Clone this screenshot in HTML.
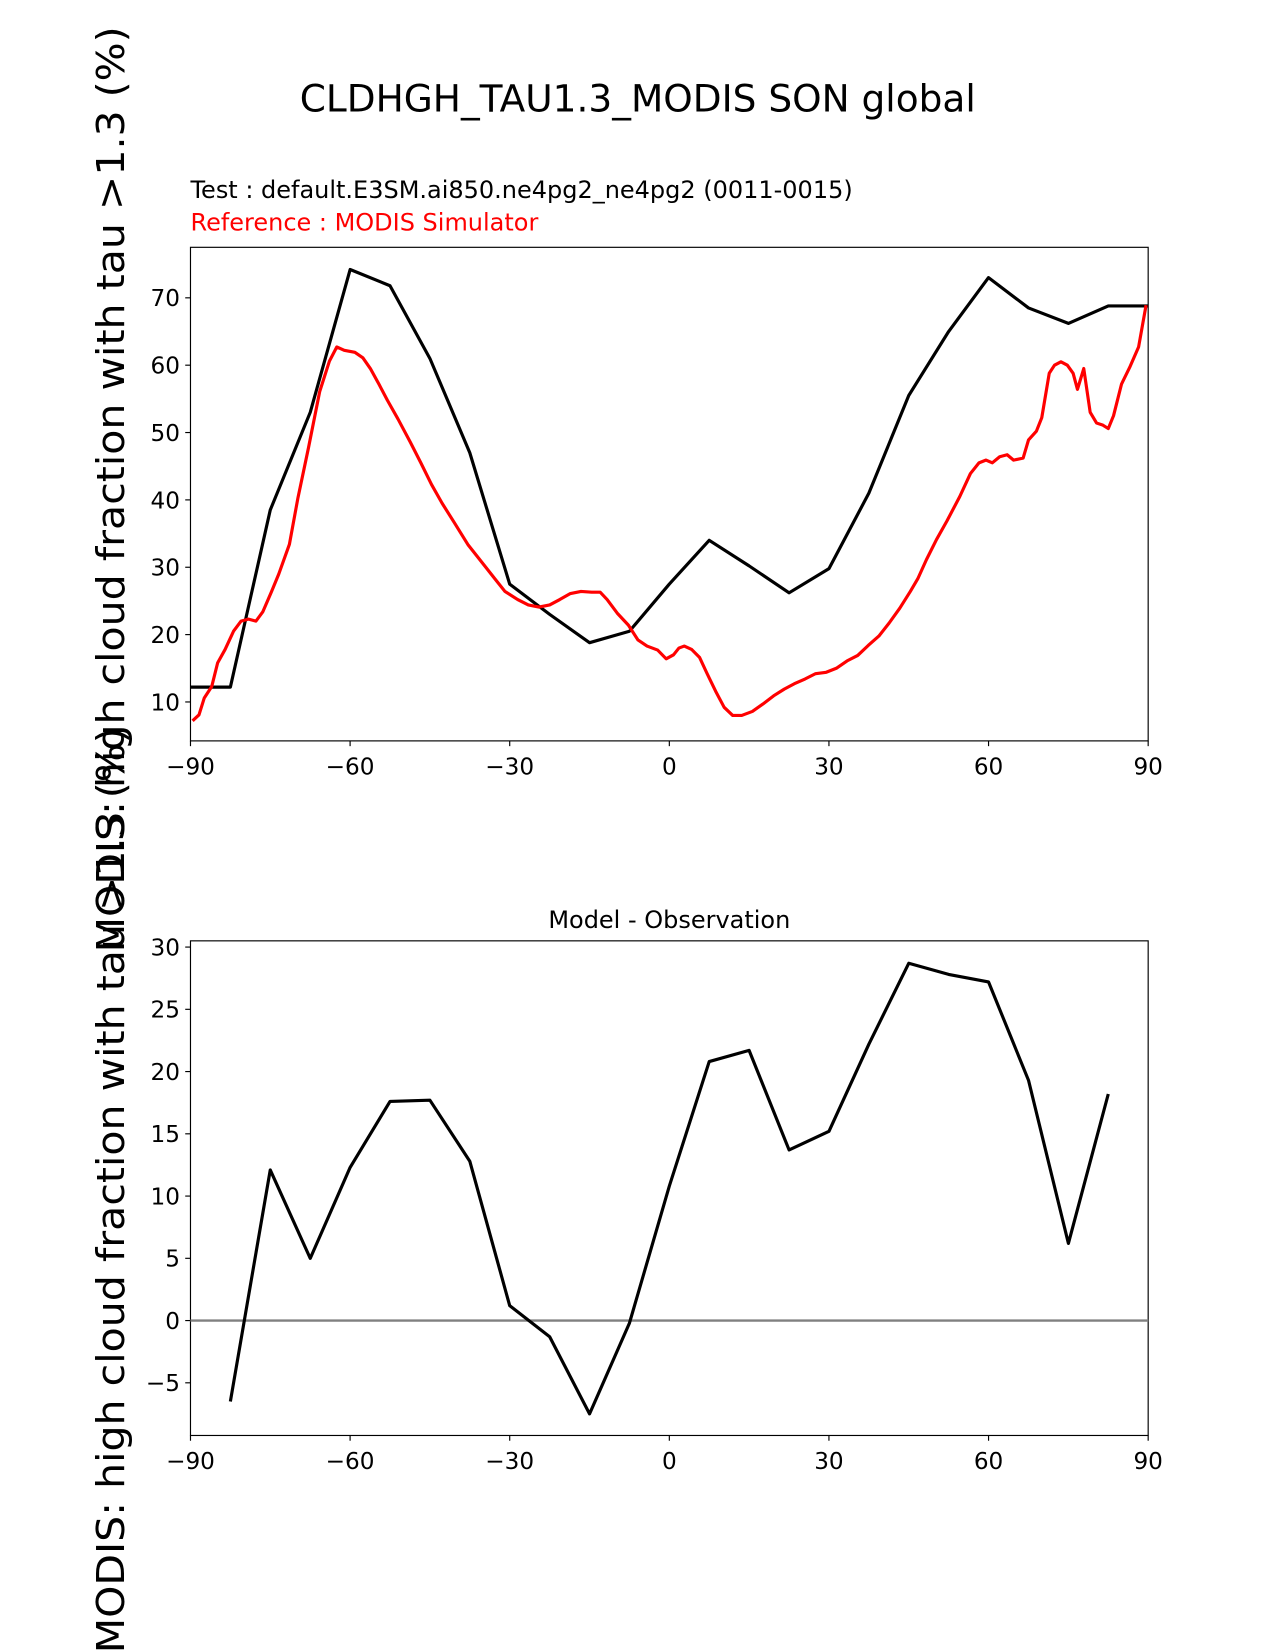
<!DOCTYPE html>
<html><head><meta charset="utf-8"><style>
html,body{margin:0;padding:0;background:#fff;}
svg{display:block;font-family:"DejaVu Sans","Liberation Sans",sans-serif;}
</style></head><body>
<svg id="chart" width="1275" height="1650" viewBox="0 0 1275 1650" xmlns="http://www.w3.org/2000/svg">
<rect width="1275" height="1650" fill="#fff"/>
<g transform="scale(1.0524)">
<text x="606" y="106" font-size="35.6" text-anchor="middle">CLDHGH_TAU1.3_MODIS SON global</text>
<text x="181" y="188" font-size="22.8">Test : default.E3SM.ai850.ne4pg2_ne4pg2 (0011-0015)</text>
<text x="181" y="219" font-size="22.8" fill="red">Reference : MODIS Simulator</text>
<text x="636" y="882" font-size="22.8" text-anchor="middle">Model - Observation</text>
<text transform="translate(118,465) rotate(-90)" font-size="36" text-anchor="middle" textLength="880" lengthAdjust="spacingAndGlyphs">MODIS: high cloud fraction with tau &gt;1.3 (%)</text>
<text transform="translate(118,1131) rotate(-90)" font-size="36" text-anchor="middle" textLength="880" lengthAdjust="spacingAndGlyphs">MODIS: high cloud fraction with tau &gt;1.3 (%)</text>
<g id="top"></g>
<g id="bot"></g>
</g>
</svg>
<script>
const lats = [-90,-82.5,-75,-67.5,-60,-52.5,-45,-37.5,-30,-22.5,-15,-7.5,0,7.5,15,22.5,30,37.5,45,52.5,60,67.5,75,82.5,90];
const testVals = [12.2,12.2,38.5,53,74.2,71.8,61,47,27.5,23,18.8,20.5,27.5,34,30.2,26.2,29.8,41,55.5,65,73,68.5,66.2,68.8,68.8];
const refLats = [-89.6,-88.4,-87.4,-86,-84.9,-83.5,-81.9,-80.5,-79.1,-77.7,-76.4,-74.8,-73.4,-71.4,-69.8,-67.8,-65.7,-63.9,-62.5,-61.1,-59.1,-57.6,-56.2,-54.6,-53,-51,-48.7,-46.7,-44.7,-42.7,-40.4,-37.8,-34.8,-32.8,-30.9,-28.5,-26.5,-24.5,-22.5,-20.6,-18.6,-16.6,-14.6,-13,-11.7,-9.7,-7.7,-5.9,-4.2,-2.2,-0.6,0.8,1.8,2.8,4.2,5.7,7.1,8.7,10.3,11.9,13.6,15.6,17.6,19.6,21.6,23.5,25.5,27.5,29.5,31.4,33.4,35.4,37.4,39.4,41.3,43.3,45.3,46.7,48.3,50.2,52.2,54.6,56.6,58.2,59.5,60.7,62.1,63.5,64.7,66.5,67.5,69,70,71.4,72.4,73.6,74.8,75.9,76.7,77.9,79.1,80.3,81.5,82.5,83.5,85,86.6,88.2,89.6];
const refVals = [7.2,8.1,10.6,12.3,15.8,17.8,20.5,22,22.3,22,23.4,26.3,29,33.4,40.3,47.8,56.1,60.6,62.7,62.2,61.9,61.1,59.5,57.2,54.8,52,48.6,45.5,42.3,39.5,36.6,33.3,30.3,28.3,26.4,25.2,24.4,24.1,24.4,25.2,26.1,26.4,26.3,26.3,25.2,23.1,21.4,19.2,18.3,17.7,16.4,17,18,18.3,17.8,16.6,14.2,11.6,9.2,8,8,8.6,9.7,10.9,11.9,12.7,13.4,14.2,14.4,15,16.1,16.9,18.4,19.8,21.7,23.9,26.4,28.3,31.1,34.1,36.9,40.5,43.9,45.5,45.9,45.5,46.4,46.7,45.9,46.2,48.9,50.2,52.2,58.8,60,60.5,60,58.8,56.4,59.5,53,51.4,51.1,50.6,52.5,57.2,59.8,62.7,68.9];
const diffLats = [-82.5,-75,-67.5,-60,-52.5,-45,-37.5,-30,-22.5,-15,-7.5,0,7.5,15,22.5,30,37.5,45,52.5,60,67.5,75,82.5];
const diffVals = [-6.5,12.1,5.0,12.3,17.6,17.7,12.8,1.2,-1.3,-7.5,-0.2,10.8,20.8,21.7,13.7,15.2,22.2,28.7,27.8,27.2,19.3,6.2,18.2];
const xTicks = [-90,-60,-30,0,30,60,90];
const yTicksTop = [10,20,30,40,50,60,70];
const yTicksBot = [-5,0,5,10,15,20,25,30];

const NS="http://www.w3.org/2000/svg";
function mk(parent,tag,attrs){const e=document.createElementNS(NS,tag);for(const k in attrs)e.setAttribute(k,attrs[k]);parent.appendChild(e);return e;}
function panel(g,top,bottom,ymin,ymax,yTicks,name){
  const L=181,R=1091;
  const xs=v=>L+(v+90)/180*(R-L);
  const ys=v=>bottom-(v-ymin)/(ymax-ymin)*(bottom-top);
  const frame=mk(g,'rect',{x:L,y:top,width:R-L,height:bottom-top,fill:'none',stroke:'#000','stroke-width':1.1});
  
  
  xTicks.forEach(t=>{
    const tl=mk(g,'line',{x1:xs(t),x2:xs(t),y1:bottom,y2:bottom+5,stroke:'#000','stroke-width':1.1});
    
    
    const tx=mk(g,'text',{x:xs(t),y:bottom+32,'font-size':22,'text-anchor':'middle'});
    tx.textContent=(t<0?'\u2212'+(-t):t);
    
    
  });
  yTicks.forEach(t=>{
    const tl=mk(g,'line',{x1:L-5,x2:L,y1:ys(t),y2:ys(t),stroke:'#000','stroke-width':1.1});
    
    
    const tx=mk(g,'text',{x:L-10,y:ys(t)+8,'font-size':22,'text-anchor':'end'});
    tx.textContent=(t<0?'\u2212'+(-t):t);
    
    
  });
  return {xs,ys};
}
function line(g,xs,ys,X,Y,color,name){
  const d=X.map((v,i)=>(i?'L':'M')+xs(v).toFixed(1)+','+ys(Y[i]).toFixed(1)).join('');
  const p=mk(g,'path',{d:d,fill:'none',stroke:color,'stroke-width':3,'stroke-linejoin':'round'});
  
  
}
const gt=document.getElementById('top');
const a=panel(gt,235,704,4.22,77.5,yTicksTop,'top');
line(gt,a.xs,a.ys,lats,testVals,'#000','test-series-line');
line(gt,a.xs,a.ys,refLats,refVals,'red','reference-series-line');
const gb=document.getElementById('bot');
const b=panel(gb,894,1364,-9.23,30.5,yTicksBot,'bottom');
const z=mk(gb,'line',{x1:181,x2:1091,y1:b.ys(0),y2:b.ys(0),stroke:'#808080','stroke-width':2.2});


line(gb,b.xs,b.ys,diffLats,diffVals,'#000','difference-series-line');
</script>
</body></html>
